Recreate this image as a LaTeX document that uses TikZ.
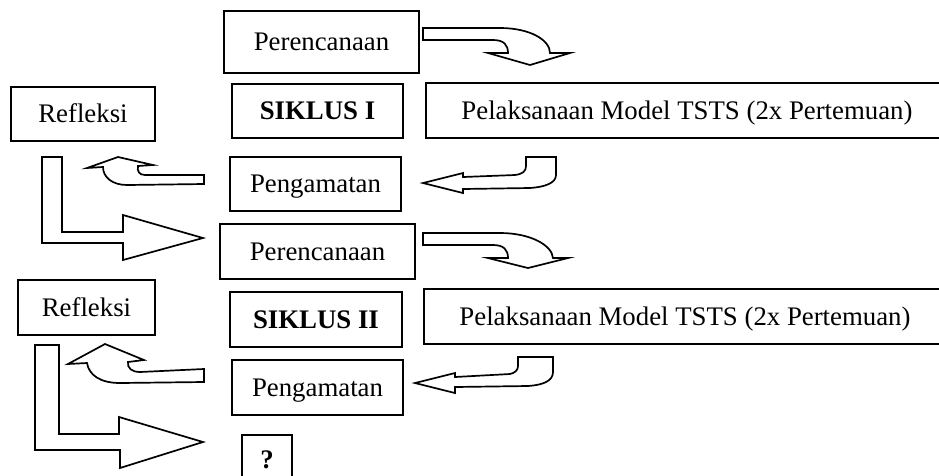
\documentclass[tikz,border=0pt]{standalone}
\usepackage{fontspec}
\setmainfont{Liberation Serif}
\begin{document}
\begin{tikzpicture}[x=1pt,y=-1pt,
  box/.style={draw, line width=1.7pt, inner sep=0pt, outer sep=0pt,
    font=\fontsize{26.8}{32}\selectfont, text height=17.5pt, text depth=0pt},
  bbox/.style={box, font=\fontsize{26.8}{32}\selectfont\bfseries},
  blockarrow/.style={draw, line width=1.7pt, fill=white, line join=miter}]
\useasboundingbox (0,0) rectangle (939,475);
% boxes
\node[box, minimum width=195pt, minimum height=62pt] (per1) at (321.5,42) {Perencanaan};
\node[box, minimum width=144pt, minimum height=54pt] (ref1) at (83,114) {Refleksi};
\node[bbox, minimum width=171pt, minimum height=54pt] (sik1) at (317.5,111) {SIKLUS I};
\node[box, minimum width=522pt, minimum height=55pt] (pel1) at (687,110.5) {Pelaksanaan Model TSTS (2x Pertemuan)};
\node[box, minimum width=171pt, minimum height=54pt] (pen1) at (315.5,184) {Pengamatan};
\node[box, minimum width=195pt, minimum height=55pt] (per2) at (317.5,251.5) {Perencanaan};
\node[box, minimum width=137pt, minimum height=55pt] (ref2) at (86.5,307.5) {Refleksi};
\node[bbox, minimum width=172pt, minimum height=55pt] (sik2) at (316,319.5) {SIKLUS II};
\node[box, minimum width=522pt, minimum height=55pt] (pel2) at (685,316.5) {Pelaksanaan Model TSTS (2x Pertemuan)};
\node[box, minimum width=171pt, minimum height=55pt] (pen2) at (317.5,387.5) {Pengamatan};
\node[bbox, minimum width=50pt, minimum height=50pt] (q) at (267,460) {?};
% curved down-right arrows
\draw[blockarrow] (423,28) -- (500,28) .. controls (530,28) and (550,40) .. (550,53) -- (570,53) -- (530,65) -- (488,53) -- (508,53) .. controls (508,45) and (504,40) .. (493,40) -- (423,40) -- cycle;
\draw[blockarrow] (423,233) -- (500,233) .. controls (530,233) and (552,245) .. (553,258) -- (568,258) -- (528,268) -- (488,258) -- (508,258) .. controls (508,250) and (504,245) .. (493,245) -- (423,245) -- cycle;
% hook left arrows
\draw[blockarrow] (556,157) -- (556,175) .. controls (556,183) and (545,187) .. (530,188) -- (463,189) -- (463,193) -- (423,183) -- (463,173) -- (463,177) -- (515,175) .. controls (523,174) and (526,171) .. (526,166) -- (526,157) -- cycle;
\draw[blockarrow] (553,357) -- (553,372) .. controls (553,381) and (543,385) .. (528,386) -- (455,387) -- (455,393) -- (415,383) -- (455,373) -- (455,377) -- (510,374) .. controls (515,373) and (518,370) .. (518,366) -- (518,357) -- cycle;
% up-left curved arrows
\draw[blockarrow] (204,175) -- (145,175) .. controls (139,175) and (137,171) .. (138,166) -- (153,165) -- (118,157) -- (87,168) -- (103,167) .. controls (103,177) and (112,185) .. (127,185) -- (204,184) -- cycle;
\draw[blockarrow] (204,369) -- (140,372) .. controls (132,372) and (127,368) .. (128,362) -- (144,360) -- (105,344) -- (68,364) -- (87,363) .. controls (89,375) and (100,383) .. (120,383) -- (204,382) -- cycle;
% L-shaped arrows
\draw[blockarrow] (42,157) -- (62,157) -- (62,232) -- (123,232) -- (123,215) -- (203,238) -- (123,260) -- (123,243) -- (42,243) -- cycle;
\draw[blockarrow] (35,345) -- (59,345) -- (59,434) -- (119,434) -- (119,417) -- (203,442) -- (120,468) -- (120,450) -- (35,450) -- cycle;
\end{tikzpicture}
\end{document}
